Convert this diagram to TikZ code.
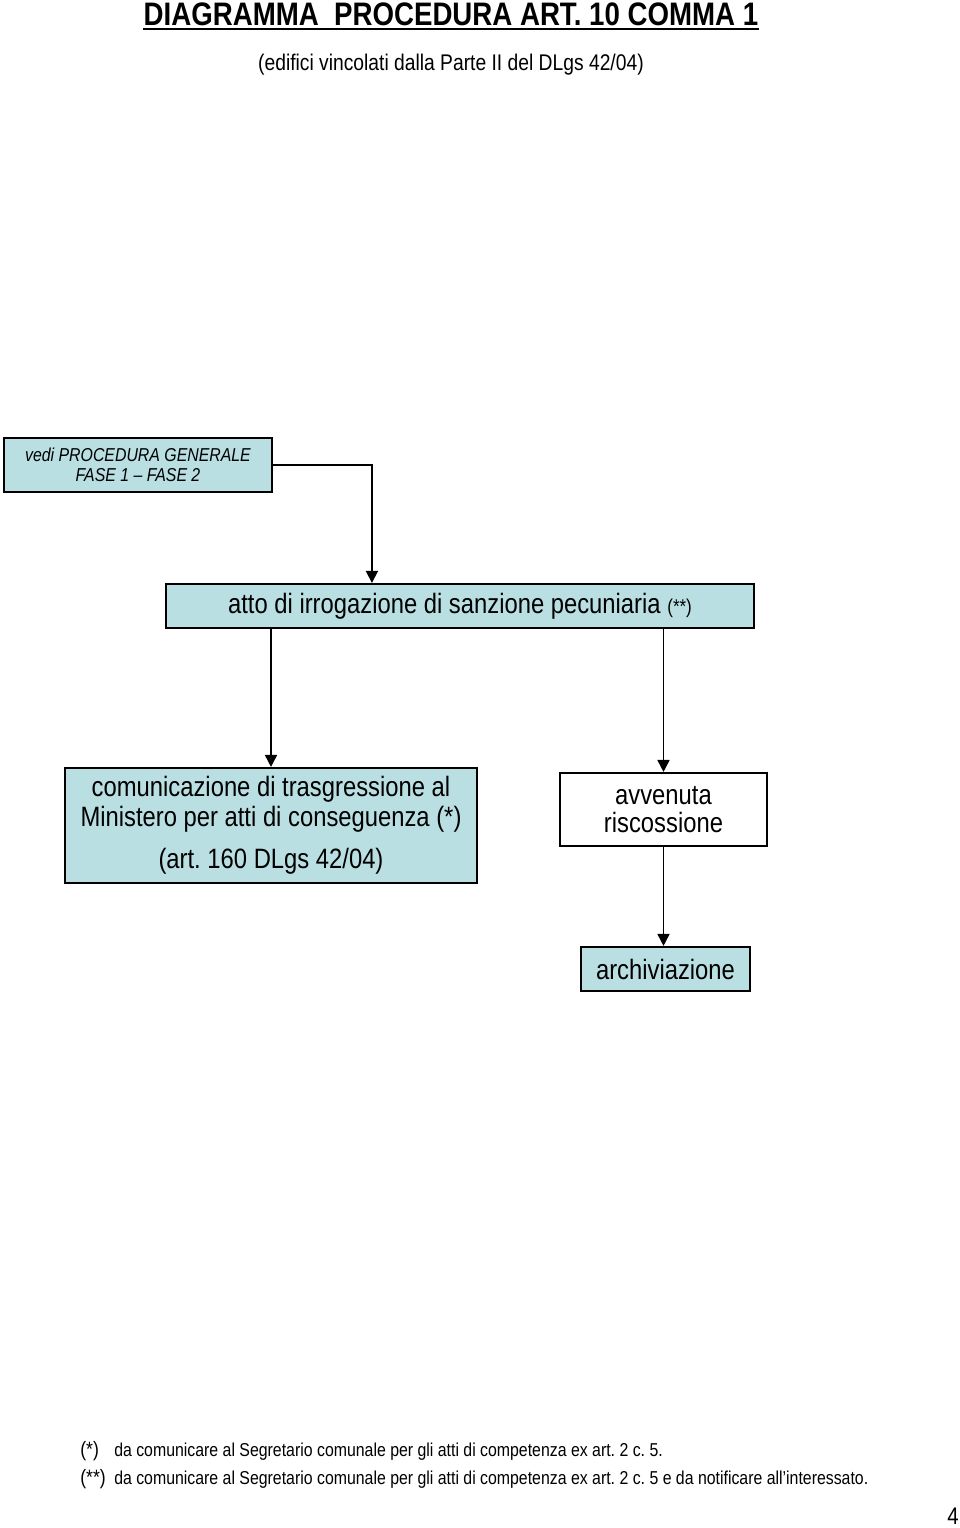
\documentclass[tikz,border=0pt]{standalone}
\usepackage{fontspec}
\setmainfont{Liberation Sans}
\newfontfamily\cond[FakeStretch=0.85]{Liberation Sans}
\newfontfamily\condb[FakeStretch=0.85]{Liberation Sans Bold}
\usetikzlibrary{arrows.meta,calc}
\definecolor{boxblue}{RGB}{185,223,227}
\frenchspacing
\tikzset{
  box/.style={draw=black,line width=1.6pt,fill=boxblue,inner sep=0pt,align=center,text=black},
  wbox/.style={box,fill=white},
  arr/.style={line width=1.3pt,-{Triangle[width=9pt,length=9pt]}},
  plain/.style={inner sep=0pt,text=black}
}
\begin{document}
\begin{tikzpicture}[x=0.75pt,y=-0.75pt]
\useasboundingbox (0,0) rectangle (960,1528);
% title
\node[plain,anchor=base,font={\condb\fontsize{24.4}{28}\selectfont}] (title) at (451,25) {DIAGRAMMA\ \ PROCEDURA ART. 10 COMMA 1};
\draw[line width=1.5pt] ([yshift=-3pt]title.base west) -- ([yshift=-3pt]title.base east);
\node[plain,anchor=base,font={\cond\fontsize{17}{20}\selectfont}] (sub) at (451,70) {(edifici vincolati dalla Parte II del DLgs 42/04)};
% boxes
\node[box,minimum width=268*0.75pt,minimum height=54*0.75pt,font={\cond\itshape\fontsize{14}{15}\selectfont}] (b1) at (138,465)
  {vedi PROCEDURA GENERALE\\FASE 1 – FASE 2};
\node[box,minimum width=588*0.75pt,minimum height=44*0.75pt,font={\cond\fontsize{21}{24}\selectfont}] (b2) at (460,606)
  {atto di irrogazione di sanzione pecuniaria {\fontsize{15}{18}\selectfont (**)}};
\node[box,minimum width=412*0.75pt,minimum height=115*0.75pt,font={\cond\fontsize{21}{22.5}\selectfont}] (b3) at (271,825.5)
  {comunicazione di trasgressione al\\Ministero per atti di conseguenza (*)\\[9pt](art. 160 DLgs 42/04)};
\node[wbox,minimum width=207*0.75pt,minimum height=73*0.75pt,font={\cond\fontsize{21}{21}\selectfont}] (b4) at (663.5,809.5)
  {avvenuta\\riscossione};
\node[box,minimum width=169*0.75pt,minimum height=44*0.75pt,font={\cond\fontsize{21}{24}\selectfont}] (b5) at (665.5,969)
  {archiviazione};
% connectors
\draw[arr] (b1.east) -| ($(b2.north west)+(207,0)$);
\draw[arr] (b2.south -| b3.north) -- (b3.north);
\draw[arr] (b2.south -| b4.north) -- (b4.north);
\draw[arr] (b4.south) -- (b4.south |- b5.north);
% footnotes
\node[plain,anchor=base west,font={\cond\fontsize{15.6}{18}\selectfont}] (f1m) at (80,1456) {(*)};
\node[plain,anchor=base west,font={\cond\fontsize{14}{16}\selectfont}] (f1) at (114,1456) {da comunicare al Segretario comunale per gli atti di competenza ex art. 2 c. 5.};
\node[plain,anchor=base west,font={\cond\fontsize{15.6}{18}\selectfont}] (f2m) at (80,1484) {(**)};
\node[plain,anchor=base west,font={\cond\fontsize{14}{16}\selectfont}] (f2) at (114,1484) {da comunicare al Segretario comunale per gli atti di competenza ex art. 2 c. 5 e da notificare all’interessato.};
\node[plain,anchor=base,font={\cond\fontsize{18}{20}\selectfont}] (pg) at (953,1524) {4};
\end{tikzpicture}
\end{document}
